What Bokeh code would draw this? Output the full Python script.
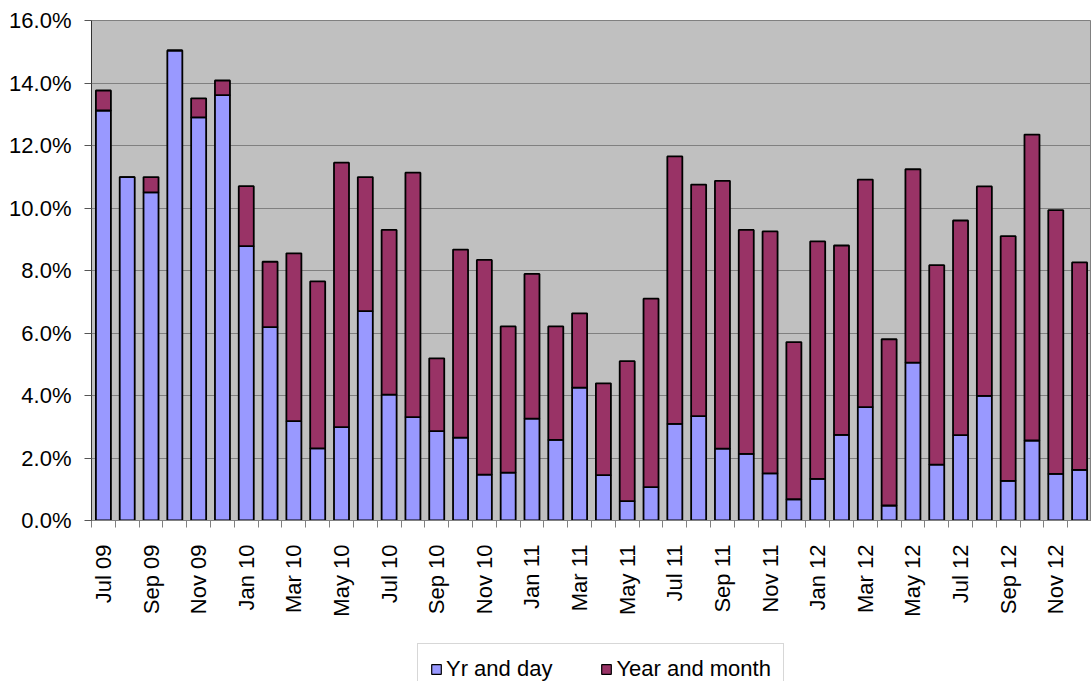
import math
from bokeh.plotting import figure
from bokeh.layouts import column
from bokeh.models import (ColumnDataSource, Range1d, FixedTicker, PrintfTickFormatter,
                          Legend, LegendItem)
from bokeh.embed import file_html
from bokeh.resources import INLINE

months = ["Jul 09", "Aug 09", "Sep 09", "Oct 09", "Nov 09", "Dec 09",
          "Jan 10", "Feb 10", "Mar 10", "Apr 10", "May 10", "Jun 10",
          "Jul 10", "Aug 10", "Sep 10", "Oct 10", "Nov 10", "Dec 10",
          "Jan 11", "Feb 11", "Mar 11", "Apr 11", "May 11", "Jun 11",
          "Jul 11", "Aug 11", "Sep 11", "Oct 11", "Nov 11", "Dec 11",
          "Jan 12", "Feb 12", "Mar 12", "Apr 12", "May 12", "Jun 12",
          "Jul 12", "Aug 12", "Sep 12", "Oct 12", "Nov 12", "Dec 12"]

yr_and_day = [13.12, 10.99, 10.50, 15.04, 12.90, 13.61,
              8.78, 6.19, 3.18, 2.31, 2.99, 6.70,
              4.03, 3.31, 2.86, 2.65, 1.47, 1.53,
              3.26, 2.58, 4.25, 1.45, 0.62, 1.07,
              3.09, 3.34, 2.30, 2.13, 1.51, 0.68,
              1.33, 2.74, 3.63, 0.48, 5.05, 1.79,
              2.73, 3.99, 1.27, 2.56, 1.49, 1.62]

year_and_month = [0.64, 0.00, 0.49, 0.00, 0.61, 0.47,
                  1.92, 2.09, 5.37, 5.34, 8.46, 4.29,
                  5.27, 7.82, 2.33, 6.02, 6.87, 4.68,
                  4.63, 3.63, 2.38, 2.94, 4.48, 6.03,
                  8.56, 7.41, 8.57, 7.17, 7.74, 5.03,
                  7.60, 6.06, 7.28, 5.32, 6.19, 6.38,
                  6.87, 6.70, 7.83, 9.79, 8.44, 6.64]

series_names = ["Yr and day", "Year and month"]
series_colors = ["#9999FF", "#993366"]
y_ticks = [0, 2, 4, 6, 8, 10, 12, 14, 16]

FONT = "Liberation Sans"
FS = "22px"

n = len(months)
xs = [i + 0.5 for i in range(n)]
source = ColumnDataSource(dict(x=xs, day=yr_and_day, month=year_and_month))

# ---------------- main chart ----------------
p = figure(width=1091, height=630, output_backend="svg", toolbar_location=None,
           x_range=Range1d(0, n), y_range=Range1d(0, 16))
p.min_border_left = 91
p.min_border_right = 0
p.min_border_top = 20
p.min_border_bottom = 110
p.background_fill_color = "#C0C0C0"
p.border_fill_color = "white"
p.outline_line_color = "#808080"

renderers = p.vbar_stack(["day", "month"], x="x", width=0.63, source=source,
                         color=series_colors, line_color="black", line_width=1.8)

p.xgrid.visible = False
p.ygrid.grid_line_color = "#808080"
p.ygrid.grid_line_width = 1
p.ygrid.ticker = FixedTicker(ticks=y_ticks)

p.yaxis.ticker = FixedTicker(ticks=y_ticks)
p.yaxis.formatter = PrintfTickFormatter(format="%.1f%%")
p.yaxis.major_label_text_font = FONT
p.yaxis.major_label_text_font_size = FS
p.yaxis.major_label_text_color = "black"
p.yaxis.major_tick_out = 7
p.yaxis.major_tick_in = 0
p.yaxis.minor_tick_out = 0
p.yaxis.major_label_standoff = 13
p.yaxis.axis_line_color = "#333333"
p.yaxis.major_tick_line_color = "#555555"

label_pos = [i + 0.5 for i in range(0, n, 2)]
p.xaxis.ticker = FixedTicker(ticks=label_pos, minor_ticks=list(range(n + 1)))
p.xaxis.major_label_overrides = {i + 0.5: months[i] for i in range(0, n, 2)}
p.xaxis.major_label_orientation = math.pi / 2
p.xaxis.major_label_text_font = FONT
p.xaxis.major_label_text_font_size = FS
p.xaxis.major_label_text_color = "black"
p.xaxis.major_tick_out = 0
p.xaxis.major_tick_in = 0
p.xaxis.minor_tick_out = 7
p.xaxis.minor_tick_in = 0
p.xaxis.minor_tick_line_color = "#808080"
p.xaxis.major_label_standoff = 17
p.xaxis.axis_line_color = "#808080"

# ---------------- legend strip ----------------
p2 = figure(width=1091, height=51, output_backend="svg", toolbar_location=None,
            x_range=Range1d(0, n), y_range=Range1d(100, 101),
            x_axis_type=None, y_axis_type=None)
p2.min_border_left = 0
p2.min_border_right = 0
p2.min_border_top = 0
p2.min_border_bottom = 0
p2.outline_line_color = None
p2.background_fill_color = "white"
p2.grid.visible = False
lr = p2.vbar_stack(["day", "month"], x="x", width=0.63, source=source,
                   color=series_colors, line_color="black", line_width=1.2)

legend = Legend(items=[LegendItem(label=series_names[0], renderers=[lr[0]]),
                       LegendItem(label=series_names[1], renderers=[lr[1]])],
                orientation="horizontal", location=(326, -14))
legend.label_text_font = FONT
legend.label_text_font_size = FS
legend.label_text_color = "black"
legend.glyph_width = 12
legend.glyph_height = 12
legend.label_standoff = 4
legend.spacing = 48
legend.padding = 12
legend.margin = 0
legend.border_line_color = "#B0B0B0"
legend.border_line_width = 1
legend.background_fill_color = "white"
legend.background_fill_alpha = 1
p2.add_layout(legend, "center")

layout = column(p, p2, spacing=0)
open("out.html", "w").write(file_html(layout, INLINE))
